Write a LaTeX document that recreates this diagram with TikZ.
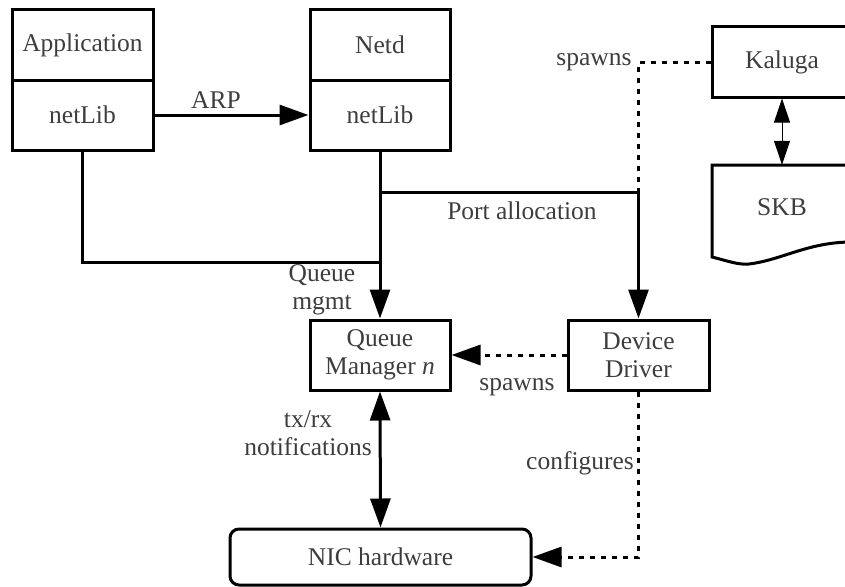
\documentclass[tikz,border=0pt]{standalone}
\usepackage{fontspec}
\setmainfont{Liberation Serif}
\usetikzlibrary{arrows.meta}
\definecolor{txt}{rgb}{0.24,0.24,0.24}
\begin{document}
\begin{tikzpicture}[x=1pt,y=-1pt, font=\fontsize{25.5}{28}\selectfont,
  box/.style={draw, line width=3pt, minimum width=141pt, minimum height=70pt, inner sep=0pt, text=txt, align=center},
  lbl/.style={text=txt, inner sep=0pt, align=center},
  conn/.style={line width=3pt},
  dots/.style={line width=3pt, dash pattern=on 5pt off 6pt},
  tip/.style={-{Triangle[length=29pt,width=20pt]}},
  dtip/.style={{Triangle[length=29pt,width=20pt]}-{Triangle[length=29pt,width=20pt]}}]
\useasboundingbox (0,0) rectangle (845,586);
\clip (0,0) rectangle (845,586);
% boxes
\node[box] (apph) at (82.5,45) {Application};
\node[box] (appl) at (82.5,115) {netLib};
\node[box, minimum width=140pt] (netdh) at (380,45) {Netd};
\node[box, minimum width=140pt] (netdl) at (380,115) {netLib};
\node[box, minimum width=140pt] (kal) at (782,62) {Kaluga};
\node[lbl, minimum width=140pt, minimum height=84pt] (skb) at (782,207) {SKB};
\draw[conn] (852,242) -- (852,165) -- (712,165) -- (712,257)
  .. controls (728,261) and (738,265) .. (749,264)
  .. controls (782,260) and (808,242) .. (852,242);
\node[box, minimum width=140pt] (qm) at (380,355) {Queue\\Manager \textit{n}};
\node[box] (dd) at (638.5,355) {Device\\Driver};
\node[box, minimum width=301pt, minimum height=56pt, rounded corners=9pt] (nic) at (380.5,557) {NIC hardware};
% junctions
\coordinate (jq) at (380,262);
\coordinate (jp) at (380,192);
\coordinate (jk) at (638.5,192);
% connectors
\draw[conn, tip] (appl.east) -- (netdl.west);
\draw[conn] (appl.south) |- (jq);
\draw[conn, tip] (netdl.south) -- (qm.north);
\draw[conn, tip] (jp) -| (dd.north);
\draw[dots] (kal.west) -| (jk);
\draw[line width=1pt, {Triangle[length=24pt,width=16pt]}-{Triangle[length=24pt,width=16pt]}] (kal.south) -- (skb.north);
\draw[dots, tip] (dd.west) -- (qm.east);
\draw[conn, dtip] (qm.south) -- (nic.north);
\draw[dots, tip] (dd.south) |- (nic.east);
% labels
\node[lbl] (larp) at (216,100) {ARP};
\node[lbl] (lspawn1) at (594,62) {spawns};
\node[lbl] (lport) at (522,211) {Port allocation};
\node[lbl] (lqm) at (322,290) {Queue\\mgmt};
\node[lbl] (lspawn2) at (517,387) {spawns};
\node[lbl] (ltx) at (308,433) {tx/rx\\notifications};
\node[lbl] (lconf) at (580,463) {configures};
\end{tikzpicture}
\end{document}
